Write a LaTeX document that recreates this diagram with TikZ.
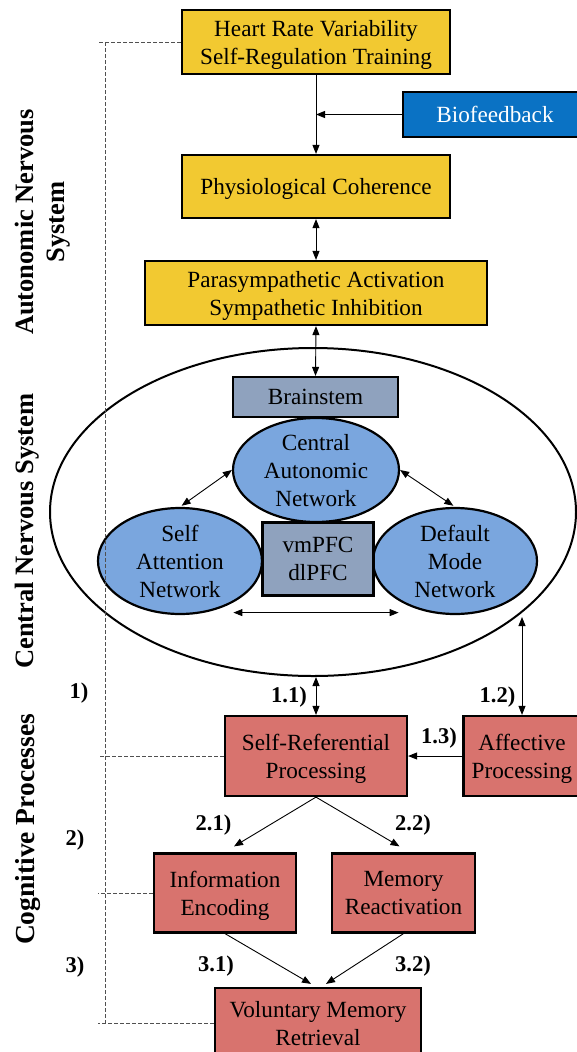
\documentclass[tikz,border=0pt]{standalone}
\usepackage{fontspec}
\setmainfont{Liberation Serif}
\usetikzlibrary{arrows.meta,shapes.geometric,calc}
\definecolor{yel}{RGB}{242,201,49}
\definecolor{bfb}{RGB}{10,114,196}
\definecolor{lblue}{RGB}{122,166,222}
\definecolor{gbox}{RGB}{143,162,190}
\definecolor{redb}{RGB}{216,115,110}
\definecolor{dgrey}{RGB}{80,80,80}
\begin{document}
\begin{tikzpicture}[x=1pt,y=1pt,
  every node/.style={font=\fontsize{23.2}{28}\selectfont, inner sep=0pt, align=center},
  boxbase/.style={draw=black, line width=2.2pt, rectangle, text depth=0pt},
  ybox/.style={boxbase, fill=yel},
  rbox/.style={boxbase, fill=redb},
  gbx/.style={boxbase, fill=gbox},
  bell/.style={draw=black, line width=2.2pt, ellipse, fill=lblue, text depth=0pt},
  arr/.style={-{Triangle[length=9pt,width=7pt]}, line width=0.9pt},
  darr/.style={{Triangle[length=9pt,width=7pt]}-{Triangle[length=9pt,width=7pt]}, line width=0.9pt},
  dsh/.style={draw=dgrey, line width=0.9pt, dash pattern=on 3.5pt off 2.5pt},
  lab/.style={font=\bfseries\fontsize{22.5}{27}\selectfont},
  sidelab/.style={font=\bfseries\fontsize{26.5}{31}\selectfont, rotate=90, anchor=north}
]
\useasboundingbox (0,0) rectangle (577,-1052);

% big CNS ellipse
\node[draw=black, line width=2pt, ellipse, minimum width=526pt, minimum height=328pt] (cns) at (313,-512) {};

% ANS boxes
\node[ybox, minimum width=268pt, minimum height=64pt] (hrv) at (316,-42) {Heart Rate Variability\\Self-Regulation Training};
\node[boxbase, fill=bfb, text=white, minimum width=184pt, minimum height=45pt] (bio) at (495,-114.5) {Biofeedback};
\node[ybox, minimum width=268pt, minimum height=63pt] (phys) at (316,-186.5) {Physiological Coherence};
\node[ybox, minimum width=342pt, minimum height=64pt] (para) at (316,-293) {Parasympathetic Activation\\Sympathetic Inhibition};

% CNS content
\node[gbx, minimum width=165pt, minimum height=40pt] (brain) at (315.5,-397) {Brainstem};
\node[bell, minimum width=166pt, minimum height=104pt] (can) at (316,-470) {Central\\Autonomic\\Network};
\node[bell, minimum width=164pt, minimum height=106pt] (san) at (180,-561) {Self\\Attention\\Network};
\node[bell, minimum width=164pt, minimum height=106pt] (dmn) at (455,-561) {Default\\Mode\\Network};
\node[gbx, minimum width=111pt, minimum height=73pt] (vm) at (318,-559) {vmPFC\\dlPFC};

% cognitive boxes
\node[rbox, minimum width=182pt, minimum height=80pt] (self) at (316,-756) {Self-Referential\\Processing};
\node[rbox, minimum width=117pt, minimum height=80pt] (aff) at (522,-756) {Affective\\Processing};
\node[rbox, minimum width=142pt, minimum height=79pt] (info) at (225,-893) {Information\\Encoding};
\node[rbox, minimum width=143pt, minimum height=79pt] (mem) at (403.5,-893) {Memory\\Reactivation};
\node[rbox, minimum width=206pt, minimum height=70pt] (vol) at (318,-1023) {Voluntary Memory\\Retrieval};

% connectors
\draw[arr] (hrv.south) -- (phys.north);
\draw[arr] (bio.west) -- (bio.west -| hrv.south);
\draw[darr] (phys.south) -- (para.north);
\draw[darr] (para.south) -- (brain.north);
\draw[darr, shorten >=2pt] (can.west) -- (san.north);
\draw[darr, shorten >=2pt] (can.east) -- (dmn.north);
\draw[darr] ([shift={(-28,-16)}]vm.south west) -- ([shift={(24,-16)}]vm.south east);
\draw[darr] (self.north) -- (self.north |- cns.south);
\coordinate (e12) at (523,-617);
\draw[darr] (aff.north) -- (aff.north |- e12);
\draw[arr] (aff.west) -- (self.east);
\draw[arr] (self.south) -- ([shift={(9,6)}]info.north);
\draw[arr] (self.south) -- ([shift={(-4,6)}]mem.north);
\draw[arr] (info.south) -- ([shift={(-7,3)}]vol.north);
\draw[arr] (mem.south) -- ([shift={(8,3)}]vol.north);

% dashed bracket
\coordinate (dl) at (105,0);
\coordinate (dl2) at (98,0);
\draw[dsh] (hrv.west) -- (hrv.west -| dl2);
\draw[dsh] (hrv.west -| dl) -- (vol.west -| dl);
\draw[dsh] (self.west) -- (self.west -| dl2);
\draw[dsh] (info.west) -- (info.west -| dl2);
\draw[dsh] (vol.west) -- (vol.west -| dl2);

% labels
\node[lab] (l11) at (289,-697) {1.1)};
\node[lab] (l12) at (497.5,-697) {1.2)};
\node[lab] (l13) at (439,-738) {1.3)};
\node[lab] (l21) at (213.5,-825) {2.1)};
\node[lab] (l22) at (413,-825) {2.2)};
\node[lab] (l31) at (216,-966) {3.1)};
\node[lab] (l32) at (413,-966) {3.2)};
\node[lab] (l1) at (79,-693) {1)};
\node[lab] (l2) at (75,-840) {2)};
\node[lab] (l3) at (75,-967) {3)};

% side labels
\node[sidelab] (ans) at (15,-222) {Autonomic Nervous\\System};
\node[sidelab] (cnsl) at (15,-531) {Central Nervous System};
\node[sidelab, font=\bfseries\fontsize{27.5}{31}\selectfont] (cog) at (15,-829.5) {Cognitive Processes};
\end{tikzpicture}
\end{document}
